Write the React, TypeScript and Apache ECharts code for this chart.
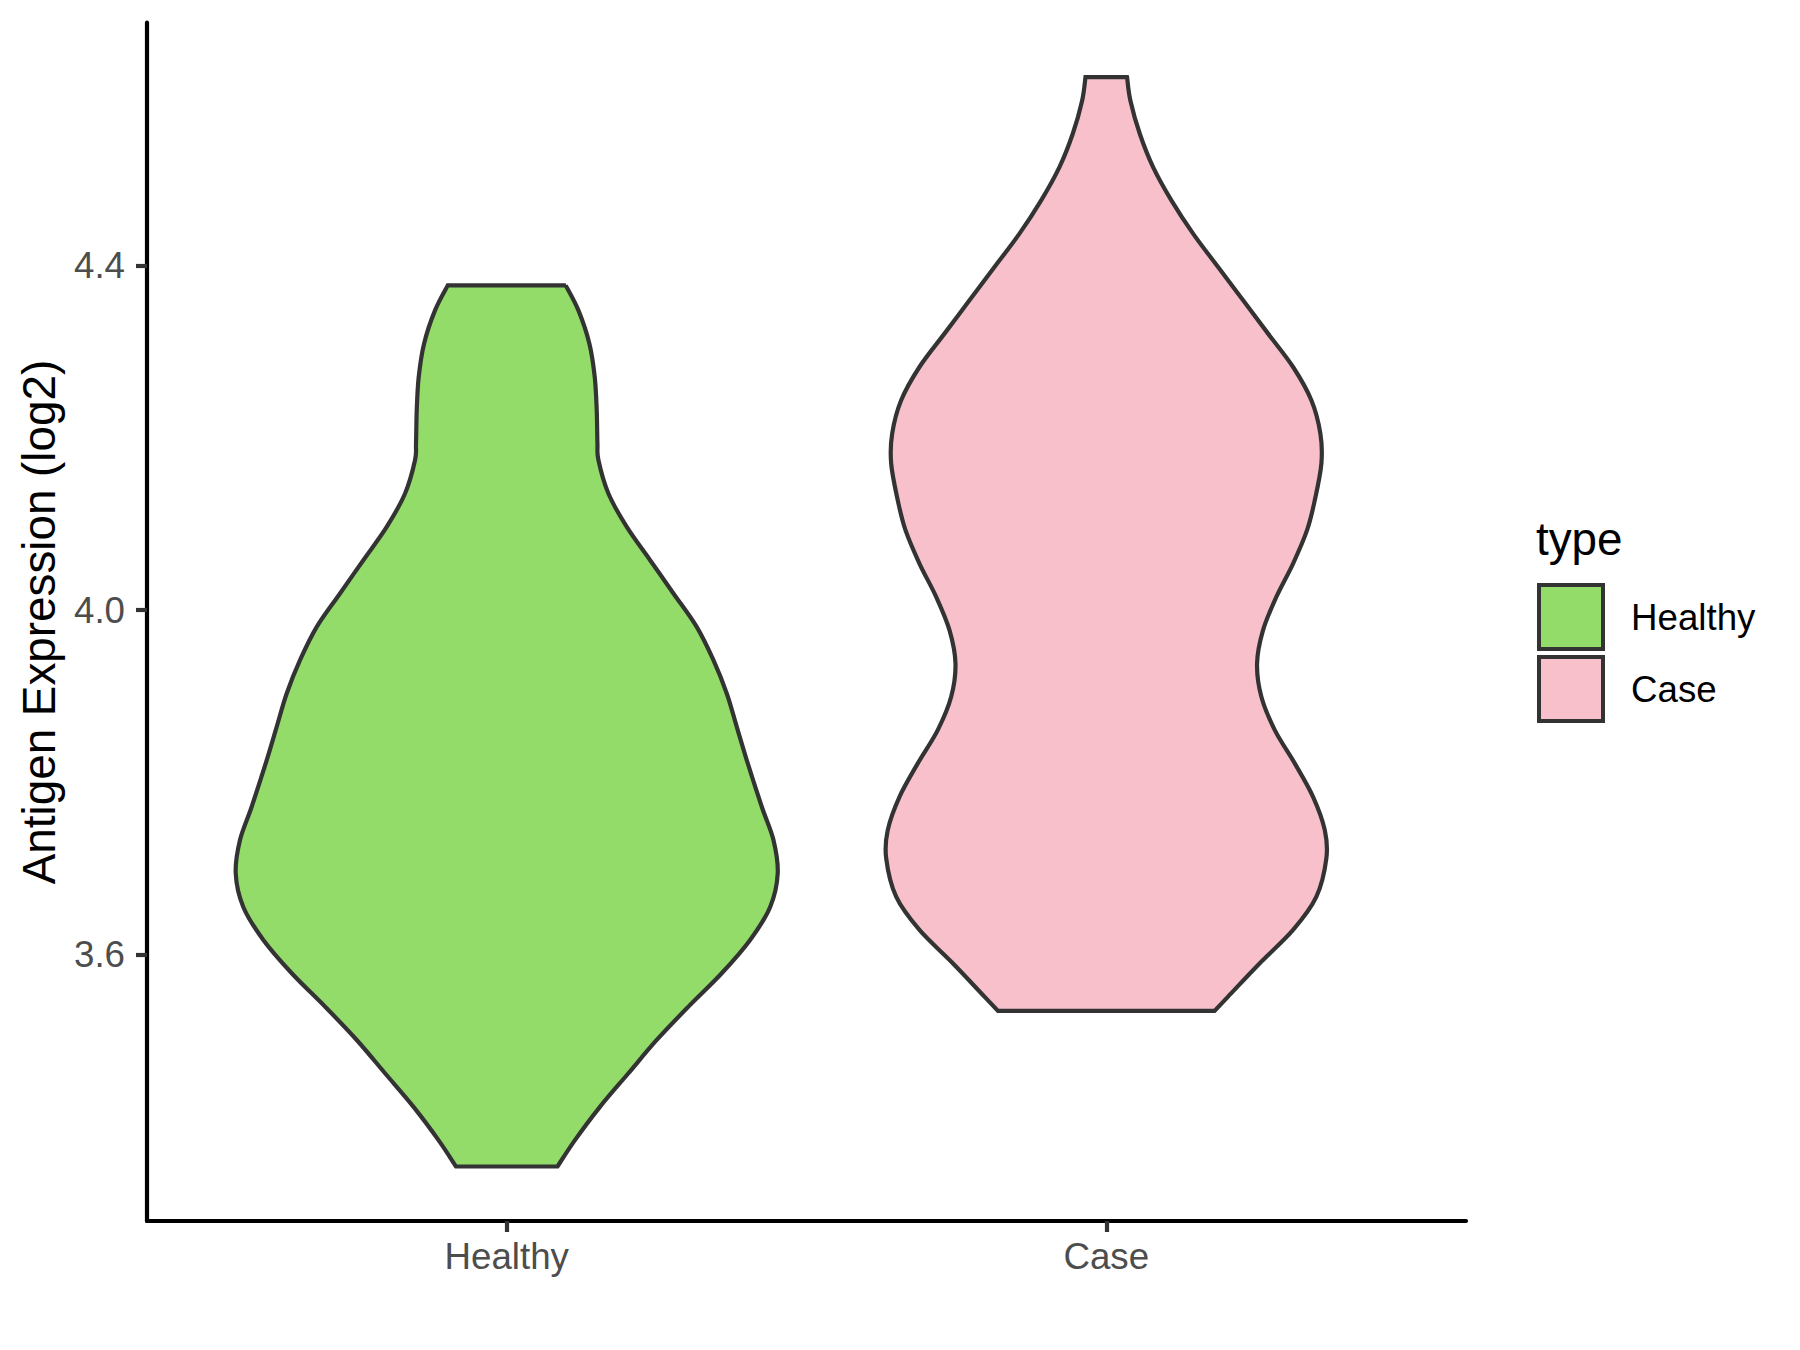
import React, { useEffect, useRef } from "react";
import * as echarts from "echarts";

// ---- data ----
const categories = ["Healthy", "Case"];
const categoryPositions = [1, 2];
const yTickValues = [3.6, 4.0, 4.4];
const Y_MIN = 3.2914;
const Y_MAX = 4.6815;
const X_MIN = 0.4;
const X_MAX = 2.6;

// violin outlines: expression value (top -> bottom) and half width (x-axis units)
const healthyY = [
  4.3768, 4.3478, 4.3092, 4.2705, 4.2319, 4.1933, 4.1739, 4.1353, 4.0966, 4.058,
  4.0194, 3.9806, 3.942, 3.9034, 3.8647, 3.8261, 3.772, 3.7333, 3.6947,
  3.6557, 3.6174, 3.5788, 3.5401, 3.5014, 3.4628, 3.4241, 3.3855, 3.3546,
];
const healthyHalfWidth = [
  0.0984, 0.1196, 0.1379, 0.1468, 0.1501, 0.1513, 0.153, 0.1696, 0.2002, 0.2392,
  0.2781, 0.3169, 0.3448, 0.367, 0.3837, 0.4003, 0.4254, 0.4449, 0.452,
  0.4394, 0.406, 0.3586, 0.3031, 0.2502, 0.203, 0.1558, 0.1141, 0.0846,
];
const caseY = [
  4.6183, 4.5913, 4.5527, 4.514, 4.4754, 4.4368, 4.398, 4.3594, 4.3208, 4.2821,
  4.2435, 4.2049, 4.1701, 4.1275, 4.0928, 4.0541, 4.0154, 3.9768, 3.9382, 3.8995,
  3.8609, 3.8223, 3.7835, 3.7449, 3.7121, 3.6676, 3.629, 3.5904, 3.5517, 3.5351,
];
const caseHalfWidth = [
  0.0347, 0.0402, 0.0559, 0.0781, 0.1086, 0.1448, 0.1865, 0.2282, 0.2699, 0.3116,
  0.3421, 0.3571, 0.3588, 0.3478, 0.3349, 0.3116, 0.2837, 0.2615, 0.2515, 0.2587,
  0.2811, 0.3144, 0.3449, 0.3645, 0.3671, 0.3505, 0.3116, 0.256, 0.2032, 0.1806,
];

const violinY = [healthyY, caseY];
const violinHalfWidth = [healthyHalfWidth, caseHalfWidth];

// ---- styles ----
const FILLS = ["#93DC6A", "#F7C0CB"];
const OUTLINE = "#333333";
const FONT = "'Liberation Sans', Arial, Helvetica, sans-serif";

function splinePath(pts: number[][]): string {
  let d = "";
  for (let i = 0; i < pts.length - 1; i++) {
    const p0 = pts[Math.max(i - 1, 0)];
    const p1 = pts[i];
    const p2 = pts[i + 1];
    const p3 = pts[Math.min(i + 2, pts.length - 1)];
    const c1x = p1[0] + (p2[0] - p0[0]) / 6;
    const c1y = p1[1] + (p2[1] - p0[1]) / 6;
    const c2x = p2[0] - (p3[0] - p1[0]) / 6;
    const c2y = p2[1] - (p3[1] - p1[1]) / 6;
    d += `C${c1x.toFixed(2)},${c1y.toFixed(2)} ${c2x.toFixed(2)},${c2y.toFixed(2)} ${p2[0].toFixed(2)},${p2[1].toFixed(2)}`;
  }
  return d;
}

export default function App() {
  const ref = useRef<HTMLDivElement>(null);

  useEffect(() => {
    if (!ref.current) return;
    const chart = echarts.init(ref.current, null, { renderer: "svg" });

    const series = categories.map((name, gi) => {
      const pos = categoryPositions[gi];
      const ys = violinY[gi];
      const ws = violinHalfWidth[gi];
      return {
        type: "custom",
        name,
        coordinateSystem: "cartesian2d",
        data: [[pos, ys[0]]],
        encode: { x: 0, y: 1 },
        clip: false,
        renderItem: (_params: any, api: any) => {
          const left = ys.map((v, i) => api.coord([pos - ws[i], v]));
          const right = ys.map((v, i) => api.coord([pos + ws[i], v]));
          let d = `M${right[0][0]},${right[0][1]}L${left[0][0]},${left[0][1]}`;
          d += splinePath(left);
          const rb = right[right.length - 1];
          d += `L${rb[0]},${rb[1]}`;
          d += splinePath(right.slice().reverse());
          d += "Z";
          return {
            type: "path",
            shape: { pathData: d },
            style: {
              fill: FILLS[gi],
              stroke: OUTLINE,
              lineWidth: 4.2,
              lineJoin: "miter",
              miterLimit: 10,
            },
          };
        },
      };
    });

    const legendItems: any[] = [];
    categories.forEach((name, i) => {
      legendItems.push({
        type: "rect",
        shape: { x: 1539, y: 585 + i * 72, width: 64, height: 64 },
        style: { fill: FILLS[i], stroke: OUTLINE, lineWidth: 4 },
      });
      legendItems.push({
        type: "text",
        x: 1631,
        y: 617 + i * 72,
        style: {
          text: name,
          fontSize: 36.7,
          fontFamily: FONT,
          fill: "#000000",
          align: "left",
          verticalAlign: "middle",
        },
      });
    });

    chart.setOption({
      animation: false,
      backgroundColor: "#FFFFFF",
      grid: {
        left: 147,
        right: 334,
        top: 22.7,
        bottom: 129,
        containLabel: false,
        outerBoundsMode: "none",
      },
      xAxis: {
        type: "value",
        min: X_MIN,
        max: X_MAX,
        splitLine: { show: false },
        axisLine: { show: true, lineStyle: { color: "#000000", width: 4.2 } },
        axisTick: {
          show: true,
          customValues: categoryPositions,
          length: 11,
          lineStyle: { color: "#333333", width: 4.2 },
        },
        axisLabel: {
          customValues: categoryPositions,
          formatter: (v: number) => categories[Math.round(v) - 1] ?? "",
          fontSize: 36.7,
          fontFamily: FONT,
          color: "#4D4D4D",
          margin: 17,
        },
      },
      yAxis: {
        type: "value",
        min: Y_MIN,
        max: Y_MAX,
        splitLine: { show: false },
        axisLine: { show: true, lineStyle: { color: "#000000", width: 4.2 } },
        axisTick: {
          show: true,
          customValues: yTickValues,
          length: 11,
          lineStyle: { color: "#333333", width: 4.2 },
        },
        axisLabel: {
          customValues: yTickValues,
          formatter: (v: number) => v.toFixed(1),
          fontSize: 36.7,
          fontFamily: FONT,
          color: "#4D4D4D",
          margin: 22,
        },
      },
      series,
      graphic: [
        {
          type: "text",
          x: 39.6,
          y: 622,
          rotation: Math.PI / 2,
          style: {
            text: "Antigen Expression (log2)",
            fontSize: 45.8,
            fontFamily: FONT,
            fill: "#000000",
            align: "center",
            verticalAlign: "middle",
          },
        },
        {
          type: "text",
          x: 1536,
          y: 539,
          style: {
            text: "type",
            fontSize: 45.8,
            fontFamily: FONT,
            fill: "#000000",
            align: "left",
            verticalAlign: "middle",
          },
        },
        ...legendItems,
      ],
    });

    return () => chart.dispose();
  }, []);

  return (
    <div
      ref={ref}
      style={{ position: "fixed", left: 0, top: 0, width: 1800, height: 1350, background: "#fff" }}
    />
  );
}
